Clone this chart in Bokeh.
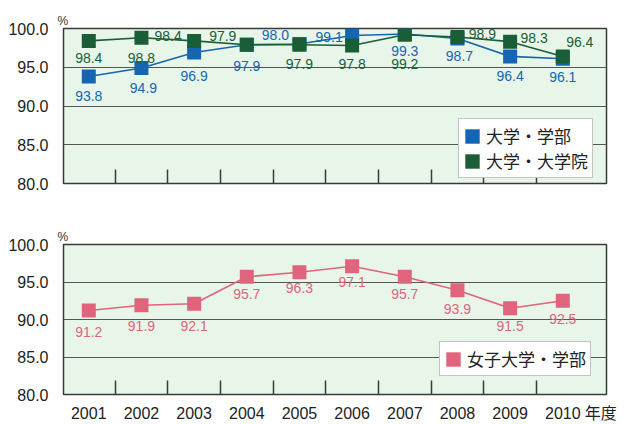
from bokeh.plotting import figure
from bokeh.layouts import column
from bokeh.models import Range1d, FixedTicker, ColumnDataSource, Legend, LegendItem, Title
from bokeh.core.properties import value
from bokeh.embed import file_html
from bokeh.resources import INLINE

# ---- data ----
years = ["2001", "2002", "2003", "2004", "2005", "2006", "2007", "2008", "2009", "2010"]
undergrad = [93.8, 94.9, 96.9, 97.9, 98.0, 99.1, 99.3, 98.7, 96.4, 96.1]
graduate = [98.4, 98.8, 98.4, 97.9, 97.9, 97.8, 99.2, 98.9, 98.3, 96.4]
women_undergrad = [91.2, 91.9, 92.1, 95.7, 96.3, 97.1, 95.7, 93.9, 91.5, 92.5]
y_ticks = [80, 85, 90, 95, 100]
series_names = ["大学・学部", "大学・大学院", "女子大学・学部"]
unit_label = "%"
year_suffix = "年度"

# ---- label placement (style, screen px) ----
ug_dx = [0, 2, 0, 0, -24, -23, 0, 2, 0, 0]
ug_dy = [19, 20, 23, 21, -9, 2, 17, 17, 20, 18]
gr_dx = [0, 0, -26, -24, 0, 0, 0, 25, 24, 17]
gr_dy = [17, 20, -5, -9, 19, 18, 29, -3, -4, -14]
wo_dx = [0] * 10
wo_dy = [21, 21, 22, 17, 16, 16, 17, 19, 18, 18]

BLUE = "#1565b2"
GREEN = "#1a5e38"
PINK = "#e0647c"
BG = "#e7f6e9"
NUM_FONT = "Liberation Sans"
MIX_FONT = "Liberation Sans, Noto Sans CJK JP"

xs = list(range(len(years)))
suffix_pos = xs[-1] + 0.72


def make_fig(height, border_top, border_bottom, show_years):
    p = figure(width=626, height=height, output_backend="svg", toolbar_location=None,
               x_range=Range1d(-0.48, len(years) - 1 + 0.83), y_range=Range1d(y_ticks[0], y_ticks[-1]),
               min_border_left=63, min_border_right=20,
               min_border_top=border_top, min_border_bottom=border_bottom)
    p.background_fill_color = BG
    p.border_fill_color = "white"
    p.outline_line_color = "#3a3a3a"
    p.outline_line_width = 1.5
    p.xgrid.visible = False
    p.ygrid.ticker = FixedTicker(ticks=y_ticks[1:-1])
    p.ygrid.grid_line_color = "#555555"
    p.ygrid.grid_line_width = 1.2
    mids = [i + 0.5 for i in xs[:-1]]
    if show_years:
        p.xaxis.ticker = FixedTicker(ticks=xs + [suffix_pos], minor_ticks=mids)
        overrides = {i: y for i, y in zip(xs, years)}
        overrides[suffix_pos] = year_suffix
        p.xaxis.major_label_overrides = overrides
    else:
        p.xaxis.ticker = FixedTicker(ticks=[], minor_ticks=mids)
    p.xaxis.major_tick_line_color = None
    p.xaxis.minor_tick_in = 14
    p.xaxis.minor_tick_out = 0
    p.xaxis.minor_tick_line_color = "#3a3a3a"
    p.xaxis.minor_tick_line_width = 1.5
    p.xaxis.axis_line_color = None
    p.xaxis.major_label_text_font = MIX_FONT
    p.xaxis.major_label_text_font_size = "16px"
    p.xaxis.major_label_text_color = "#222222"
    p.xaxis.major_label_standoff = 4
    p.yaxis.ticker = FixedTicker(ticks=y_ticks)
    p.yaxis.major_label_overrides = {t: f"{t:.1f}" for t in y_ticks}
    p.yaxis.major_tick_line_color = None
    p.yaxis.minor_tick_line_color = None
    p.yaxis.axis_line_color = None
    p.yaxis.major_label_text_font = NUM_FONT
    p.yaxis.major_label_text_font_size = "16px"
    p.yaxis.major_label_text_color = "#222222"
    p.yaxis.major_label_standoff = 9
    p.add_layout(Title(text=unit_label, align="left", offset=-6, standoff=2,
                       text_font=NUM_FONT, text_font_size="12px", text_color="#333333",
                       text_font_style="normal"), "above")
    return p


def add_series(p, vals, color, dx, dy):
    src = ColumnDataSource(dict(x=xs, y=vals, t=[f"{v:.1f}" for v in vals], dx=dx, dy=dy))
    p.line("x", "y", source=src, line_color=color, line_width=1.6)
    r = p.rect("x", "y", width=14, height=14, width_units="screen", height_units="screen",
               source=src, fill_color=color, line_color=None)
    p.text("x", "y", text="t", x_offset="dx", y_offset="dy", source=src,
           text_color=color, text_font=value(NUM_FONT), text_font_size="14px",
           text_align="center", text_baseline="middle")
    return r


def add_legend(p, items, loc):
    lg = Legend(items=items, location=loc, orientation="vertical",
                glyph_width=18, glyph_height=18, label_height=18,
                label_standoff=5, padding=4, spacing=0, margin=0,
                label_text_font=MIX_FONT, label_text_font_size="17px",
                label_text_color="#222222",
                background_fill_color="white", background_fill_alpha=1.0,
                border_line_color="#8a8a8a", border_line_width=1)
    p.add_layout(lg)


# top chart
p1 = make_fig(205, 28, 22, False)
r_ug = add_series(p1, undergrad, BLUE, ug_dx, ug_dy)
r_gr = add_series(p1, graduate, GREEN, gr_dx, gr_dy)
add_legend(p1, [LegendItem(label=series_names[0], renderers=[r_ug]),
                LegendItem(label=series_names[1], renderers=[r_gr])], (395, 5))

# bottom chart
p2 = make_fig(219, 39, 29, True)
r_wo = add_series(p2, women_undergrad, PINK, wo_dx, wo_dy)
add_legend(p2, [LegendItem(label=series_names[2], renderers=[r_wo])], (376, 18))

layout = column(p1, p2, spacing=0)
open("out.html", "w").write(file_html(layout, INLINE))
